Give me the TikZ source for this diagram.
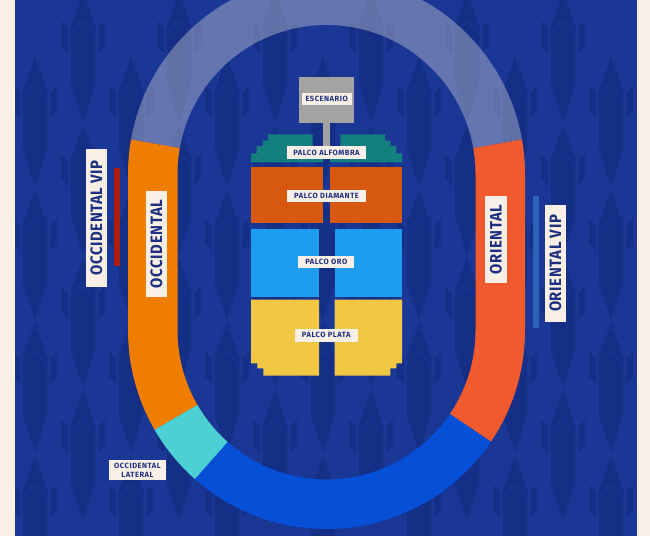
\documentclass[tikz,border=0pt]{standalone}
\usepackage{fontspec}
\setmainfont{Fira Sans}
\usetikzlibrary{calc}
\definecolor{creamside}{HTML}{F8F0E6}
\definecolor{nightblue}{HTML}{1A3796}
\definecolor{darkfeather}{HTML}{152E86}
\definecolor{labelink}{HTML}{1E2F80}
\definecolor{occorange}{HTML}{EF7D00}
\definecolor{latturq}{HTML}{4DD0D4}
\definecolor{curveblue}{HTML}{0650D8}
\definecolor{oriorange}{HTML}{F15A2C}
\definecolor{stagegray}{HTML}{A3A3A3}
\definecolor{alfteal}{HTML}{137F7F}
\definecolor{diamorange}{HTML}{D6590F}
\definecolor{oroblue}{HTML}{1E9CEE}
\definecolor{platayellow}{HTML}{F2C744}
\definecolor{vipred}{HTML}{AD1F0C}
\definecolor{vipblue}{HTML}{2E62B5}
\tikzset{
  feather/.pic={
    \fill[darkfeather] (0,33) -- (12,0) -- (12,-60) -- (0,-97) -- (-12,-60) -- (-12,0) -- cycle;
    \draw[nightblue,line width=0.5pt] (-12,-8) -- (0,4) -- (12,-8);
    \fill[darkfeather] (-22,4) -- (-15,-3) -- (-15,-28) -- (-22,-21) -- cycle;
    \fill[darkfeather] (22,4) -- (15,-3) -- (15,-28) -- (22,-21) -- cycle;
  },
  smalltag/.style={fill=creamside,text=labelink,inner sep=0pt,align=center,
    font=\bfseries\fontsize{4.3}{5}\selectfont\addfontfeature{LetterSpace=7}},
  bigtag/.style={fill=creamside,text=labelink,inner sep=0pt,rotate=90,
    font=\bfseries\fontsize{9.4}{11}\selectfont\addfontfeature{LetterSpace=4,FakeStretch=0.9}},
}
\begin{document}
\begin{tikzpicture}[x=0.02cm,y=0.02cm]
  \useasboundingbox (0,0) rectangle (650,536);
  \clip (0,0) rectangle (650,536);

  \fill[nightblue] (0,0) rectangle (650,536);
  \foreach \k in {-1,...,6} {
    \foreach \j in {0,...,3} {
      \pic at ({35+96*\k},{536-90-133*\j}) {feather};
      \pic at ({83+96*\k},{536-25-133*\j}) {feather};
    }
  }
  \fill[creamside] (0,0) rectangle (15,536);
  \fill[creamside] (637,0) rectangle (650,536);

  % track
  \coordinate (top) at (326.5,362);
  \coordinate (bot) at (326.5,205.5);
  \fill[white!85!black,opacity=0.39] ($(top)+(170:198.5)$) arc[start angle=170,end angle=10,radius=198.5]
    -- ($(top)+(10:149)$) arc[start angle=10,end angle=170,radius=149] -- cycle;
  \fill[occorange] ($(top)+(170:198.5)$) arc[start angle=170,end angle=180,radius=198.5]
    -- ($(bot)+(180:198.5)$) arc[start angle=180,end angle=210,radius=198.5]
    -- ($(bot)+(210:149)$) arc[start angle=210,end angle=180,radius=149]
    -- ($(top)+(180:149)$) arc[start angle=180,end angle=170,radius=149] -- cycle;
  \foreach \a/\b/\c in {210/228.5/latturq,228.5/326/curveblue} {
    \fill[\c] ($(bot)+(\a:198.5)$) arc[start angle=\a,end angle=\b,radius=198.5]
      -- ($(bot)+(\b:149)$) arc[start angle=\b,end angle=\a,radius=149] -- cycle;
  }
  \fill[oriorange] ($(bot)+(326:198.5)$) arc[start angle=326,end angle=360,radius=198.5]
    -- ($(top)+(0:198.5)$) arc[start angle=0,end angle=10,radius=198.5]
    -- ($(top)+(10:149)$) arc[start angle=10,end angle=0,radius=149]
    -- ($(bot)+(0:149)$) arc[start angle=360,end angle=326,radius=149] -- cycle;

  % stage and palcos
  \fill[stagegray] (299.3,413.3) rectangle (354,458.7);
  \fill[stagegray] (323.3,385) rectangle (330,414);
  \foreach \s/\xa/\xb/\xc/\xd/\xe/\xf in {1/251/256.7/262.7/268/312.7/323.3,-1/402/396.3/390.3/385/340.3/330} {
    \fill[alfteal] (\xa,373.7) -- (\xa,382.7) -- (\xb,382.7) -- (\xb,390) -- (\xc,390) -- (\xc,395.3)
      -- (\xd,395.3) -- (\xd,401.7) -- (\xe,401.7) -- (\xe,386) -- (\xf,386) -- (\xf,373.7) -- cycle;
  }
  \fill[diamorange] (251,312.7) rectangle (323.3,368.7);
  \fill[diamorange] (330,312.7) rectangle (402,368.7);
  \fill[oroblue] (251,239) rectangle (319,307);
  \fill[oroblue] (334.7,239) rectangle (402,307);
  \fill[platayellow] (251,236.3) -- (319,236.3) -- (319,160.3) -- (263.3,160.3) -- (263.3,167.7)
    -- (257.3,167.7) -- (257.3,172.7) -- (251,172.7) -- cycle;
  \fill[platayellow] (402,236.3) -- (334.7,236.3) -- (334.7,160.3) -- (390.4,160.3) -- (390.4,167.7)
    -- (396.4,167.7) -- (396.4,172.7) -- (402,172.7) -- cycle;

  % vip bars
  \fill[vipred] (114.3,270.3) rectangle (120.3,367.7);
  \fill[vipblue] (532.7,208) rectangle (539,340.3);

  \begin{scope}[every node/.style={smalltag}]
    \node[minimum width=1cm,minimum height=0.252cm] (escenario) at (326.7,437) {ESCENARIO};
    \node[minimum width=1.58cm,minimum height=0.248cm] (alfombra) at (326.5,383.5) {PALCO ALFOMBRA};
    \node[minimum width=1.58cm,minimum height=0.252cm] (diamante) at (326.5,340) {PALCO DIAMANTE};
    \node[minimum width=1.12cm,minimum height=0.252cm] (oro) at (326.3,274) {PALCO ORO};
    \node[minimum width=1.254cm,minimum height=0.252cm] (plata) at (326.3,200.7) {PALCO PLATA};
    \node[minimum width=1.128cm,minimum height=0.4cm] (lateral) at (137.5,66) {OCCIDENTAL\\LATERAL};
  \end{scope}

  \begin{scope}[every node/.style={bigtag}]
    \node[minimum width=2.126cm,minimum height=0.414cm] (occ) at (156.3,292) {OCCIDENTAL};
    \node[minimum width=2.754cm,minimum height=0.42cm] (occvip) at (96.5,318) {OCCIDENTAL VIP};
    \node[minimum width=1.728cm,minimum height=0.428cm] (ori) at (496,296.5) {ORIENTAL};
    \node[minimum width=2.352cm,minimum height=0.432cm] (orivip) at (555.5,272.5) {ORIENTAL VIP};
  \end{scope}

\end{tikzpicture}
\end{document}
